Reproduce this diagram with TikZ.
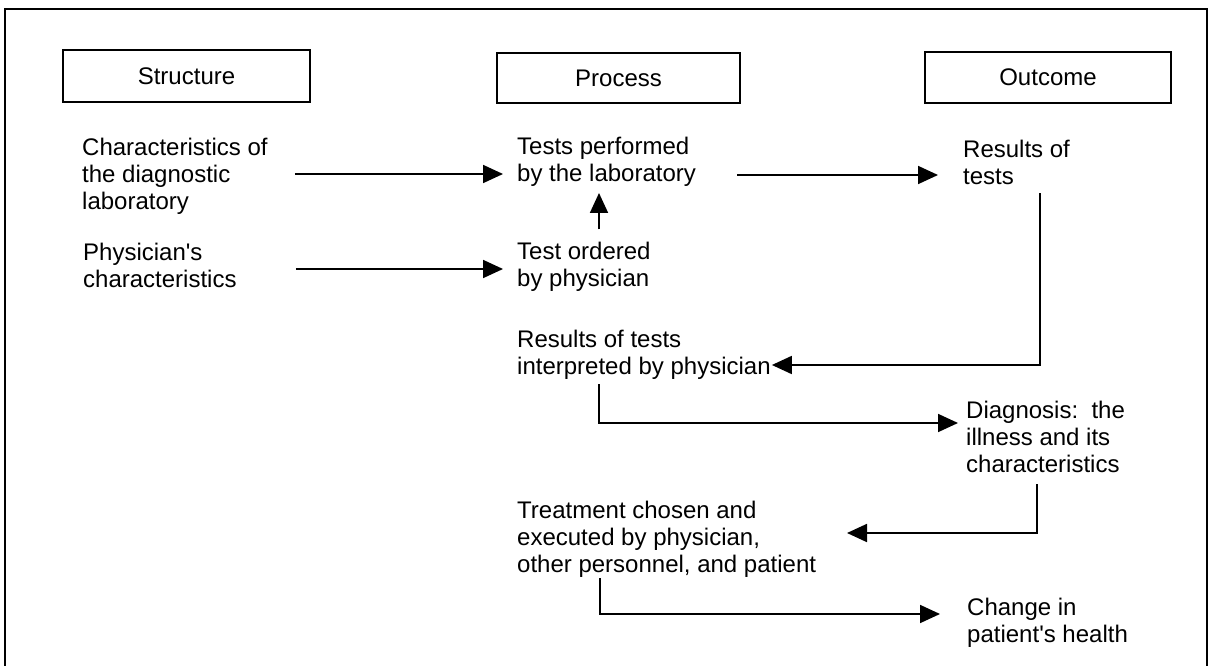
\documentclass[tikz,border=0pt]{standalone}
\usepackage{fontspec}
\setmainfont{Liberation Sans}
\usetikzlibrary{arrows.meta}
\tikzset{
  head/.style={draw, line width=1.4pt, inner sep=0pt,
    font=\fontsize{24}{27}\selectfont},
  txt/.style={inner sep=0pt, anchor=base west, align=left,
    font=\fontsize{24}{27}\selectfont},
  arr/.style={line width=1.8pt, -{Triangle[length=20pt,width=18pt]}},
}
\begin{document}
\begin{tikzpicture}[x=1pt,y=-1pt]
\useasboundingbox (0,0) rectangle (1211,666);
% outer frame (bottom edge lies below the page)
\draw[line width=2pt] (5,690) -- (5,9) -- (1207,9) -- (1207,690);

% column headings
\node[head, minimum width=247pt, minimum height=52pt] (hs) at (186.5,76) {Structure};
\node[head, minimum width=243pt, minimum height=50pt] (hp) at (618.5,78) {Process};
\node[head, minimum width=246pt, minimum height=51pt] (ho) at (1048,77.5) {Outcome};

% structure (nodes placed by the baseline of their last line)
\node[txt] (lab) at (82,209) {Characteristics of\\the diagnostic\\laboratory};
\node[txt] (phys) at (83,287) {Physician\textquotesingle s\\characteristics};

% process
\node[txt] (tests) at (517,182) {Tests performed\\by the laboratory};
\node[txt] (order) at (517,286) {Test ordered\\by physician};
\node[txt] (interp) at (517,374) {Results of tests\\interpreted by physician};
\node[txt] (treat) at (517,572) {Treatment chosen and\\executed by physician,\\other personnel, and patient};

% outcome
\node[txt] (res) at (963,185) {Results of\\tests};
\node[txt] (diag) at (966,472) {Diagnosis:\ \ the\\illness and its\\characteristics};
\node[txt] (change) at (967,642) {Change in\\patient\textquotesingle s health};

% connectors
\draw[arr] (lab.east |- 0,174) ++(27,0) -- ([xshift=-14pt]tests.west |- 0,174);
\draw[arr] (phys.east |- 0,269) ++(59,0) -- ([xshift=-14pt]order.west |- 0,269);
\draw[arr] (order.north -| 599,0) ++(0,-12) -- (599,193);
\draw[arr] (tests.east |- 0,175) ++(41,0) -- ([xshift=-25pt]res.west |- 0,175);
\draw[arr] (res.south -| 1040,0) ++(0,8) |- ([xshift=1pt]interp.east |- 0,365);
\draw[arr] (interp.south -| 599,0) ++(0,5) |- ([xshift=-8pt]diag.west |- 0,423);
\draw[arr] (diag.south -| 1037,0) ++(0,12) |- (847,533);
\draw[arr] (treat.south -| 600,0) ++(0,1) |- ([xshift=-27pt]change.west |- 0,614);
\end{tikzpicture}
\end{document}
